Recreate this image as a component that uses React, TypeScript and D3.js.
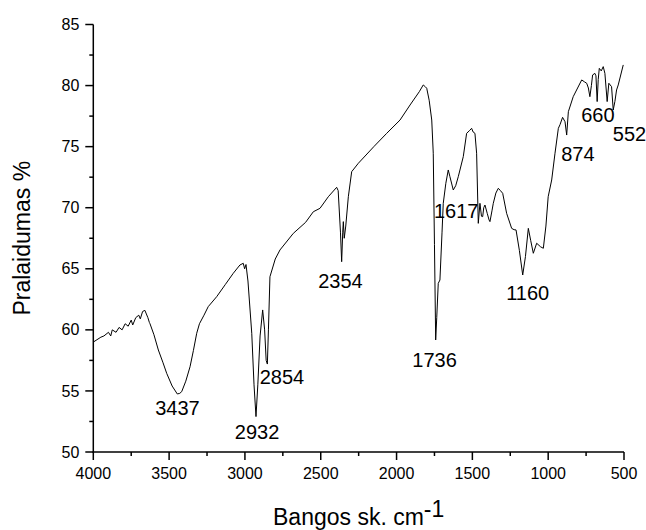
import React from "react";
import * as d3 from "d3";

const wavenumbers = [
  4000, 3950, 3930, 3900, 3885, 3875, 3850, 3830, 3810, 3790, 3770, 3750, 3740, 3720, 3700, 3690, 3675, 3660, 3650, 3640, 3630, 3626,
  3600, 3571, 3540, 3516, 3480, 3446, 3430, 3417, 3390, 3362, 3340, 3318, 3300, 3270, 3242, 3186, 3130, 3077, 3033, 3011, 3002, 2993,
  2980, 2955, 2940, 2927, 2915, 2900, 2883, 2870, 2860, 2852, 2845, 2835, 2800, 2769, 2681, 2600, 2549, 2505, 2450, 2395, 2385, 2370,
  2362, 2355, 2351, 2345, 2335, 2318, 2296, 2252, 2150, 2065, 1977, 1911, 1850, 1824, 1810, 1801, 1785, 1768, 1758, 1750, 1742, 1735,
  1725, 1714, 1700, 1692, 1675, 1659, 1648, 1626, 1610, 1593, 1560, 1538, 1520, 1505, 1495, 1483, 1472, 1461, 1450, 1440, 1432, 1425,
  1417, 1402, 1390, 1384, 1370, 1362, 1345, 1329, 1315, 1300, 1274, 1241, 1225, 1212, 1190, 1168, 1150, 1131, 1115, 1098, 1076, 1050,
  1032, 1015, 1000, 977, 955, 933, 922, 905, 889, 878, 867, 835, 779, 760, 746, 735, 725, 715, 707, 692, 685, 677, 670, 663, 650, 637,
  626, 611, 600, 582, 571, 560, 549, 538, 505,
];

const transmittance = [
  59.0, 59.4, 59.5, 59.8, 59.5, 60.0, 59.8, 60.2, 60.0, 60.5, 60.3, 60.8, 60.4, 61.0, 61.2, 60.9, 61.5, 61.6, 61.3, 61.0, 60.6, 60.5,
  59.6, 58.35, 57.3, 56.44, 55.4, 54.75, 54.8, 54.94, 55.8, 56.98, 58.3, 59.72, 60.5, 61.2, 61.9, 62.72, 63.7, 64.63, 65.31, 65.45, 65.0, 65.35,
  64.0, 59.72, 55.5, 52.9, 55.5, 59.5, 61.63, 60.0, 57.5, 57.2, 60.0, 64.35, 65.8, 66.54, 67.9, 68.8, 69.67, 69.95, 70.9, 71.67, 71.4, 68.0,
  65.58, 68.0, 68.86, 67.5, 68.5, 70.9, 72.95, 73.64, 75.0, 76.09, 77.18, 78.41, 79.5, 80.05, 79.9, 79.78, 78.8, 77.18, 74.46, 67.0, 59.17, 61.0,
  63.81, 64.08, 68.0, 70.36, 72.0, 73.09, 72.54, 71.45, 71.8, 72.54, 74.18, 76.09, 76.3, 76.5, 76.2, 76.09, 74.46, 68.72, 70.36, 69.3, 69.27, 70.0,
  70.22, 69.54, 69.0, 68.86, 69.8, 70.36, 71.2, 71.59, 71.4, 71.18, 69.54, 68.31, 68.2, 68.18, 66.5, 64.49, 66.0, 68.31, 67.3, 66.27, 67.09, 66.8,
  66.68, 68.5, 70.9, 72.27, 74.46, 76.5, 76.8, 77.4, 77.04, 75.95, 77.86, 79.09, 80.46, 80.3, 80.19, 79.8, 79.09, 80.0, 80.87, 81.0, 80.8, 78.69, 80.5, 81.41, 81.2, 81.55,
  81.0, 78.69, 80.19, 79.91, 78.0, 78.7, 79.64, 80.05, 81.69,
];

const peakLabels = ["3437", "2932", "2854", "2354", "1736", "1617", "1160", "874", "660", "552"];
const peakLabelX = [3445, 2920, 2756, 2370, 1749, 1607, 1135, 804, 672, 464];
const peakLabelY = [53.03, 51.06, 55.57, 63.43, 56.96, 69.16, 62.44, 73.85, 77.04, 75.46];

const xMajorTicks = [4000, 3500, 3000, 2500, 2000, 1500, 1000, 500];
const yMajorTicks = [50, 55, 60, 65, 70, 75, 80, 85];

const W = 646;
const H = 530;
const left = 93.3;
const right = 624;
const top = 24.5;
const bottom = 452;
const FONT = "Liberation Sans, Arial, sans-serif";

export default function App() {
  const x = d3.scaleLinear().domain([4000, 500]).range([left, right]);
  const y = d3.scaleLinear().domain([50, 85]).range([bottom, top]);
  const pts: [number, number][] = wavenumbers.map((w, i) => [w, transmittance[i]]);
  const line = d3
    .line<[number, number]>()
    .x((d) => x(d[0]))
    .y((d) => y(d[1]));

  const xMinor = d3.range(4000, 499, -250).filter((v) => v % 500 !== 0);
  const yMinor = d3.range(50, 85.1, 2.5).filter((v) => v % 5 !== 0);

  return (
    <svg
      width={W}
      height={H}
      style={{ position: "absolute", left: 0, top: 0, background: "#fff" }}
      fontFamily={FONT}
    >
      <path d={line(pts) || ""} fill="none" stroke="#000" strokeWidth={1} strokeLinejoin="round" />

      {/* axes */}
      <line x1={left} x2={left} y1={bottom + 0.75} y2={top} stroke="#000" strokeWidth={1.5} />
      <line x1={left - 0.75} x2={right} y1={bottom} y2={bottom} stroke="#000" strokeWidth={1.5} />

      {xMajorTicks.map((t) => (
        <g key={"xt" + t}>
          <line x1={x(t)} x2={x(t)} y1={bottom} y2={bottom + 8} stroke="#000" strokeWidth={1.5} />
          <text x={x(t)} y={bottom + 27} textAnchor="middle" fontSize={16}>
            {t}
          </text>
        </g>
      ))}
      {xMinor.map((t) => (
        <line key={"xm" + t} x1={x(t)} x2={x(t)} y1={bottom} y2={bottom + 4} stroke="#000" strokeWidth={1.5} />
      ))}
      {yMajorTicks.map((t) => (
        <g key={"yt" + t}>
          <line x1={left - 8} x2={left} y1={y(t)} y2={y(t)} stroke="#000" strokeWidth={1.5} />
          <text x={left - 14} y={y(t)} dy="0.35em" textAnchor="end" fontSize={16}>
            {t}
          </text>
        </g>
      ))}
      {yMinor.map((t) => (
        <line key={"ym" + t} x1={left - 4} x2={left} y1={y(t)} y2={y(t)} stroke="#000" strokeWidth={1.5} />
      ))}

      {peakLabels.map((s, i) => (
        <text key={"pl" + s} x={x(peakLabelX[i])} y={y(peakLabelY[i])} textAnchor="middle" fontSize={20}>
          {s}
        </text>
      ))}

      <text x={(left + right) / 2} y={525} textAnchor="middle" fontSize={23}>
        Bangos sk. cm
        <tspan dy={-8}>-1</tspan>
      </text>
      <text
        transform={`translate(30,${(top + bottom) / 2}) rotate(-90)`}
        textAnchor="middle"
        fontSize={23}
      >
        Pralaidumas %
      </text>
    </svg>
  );
}
